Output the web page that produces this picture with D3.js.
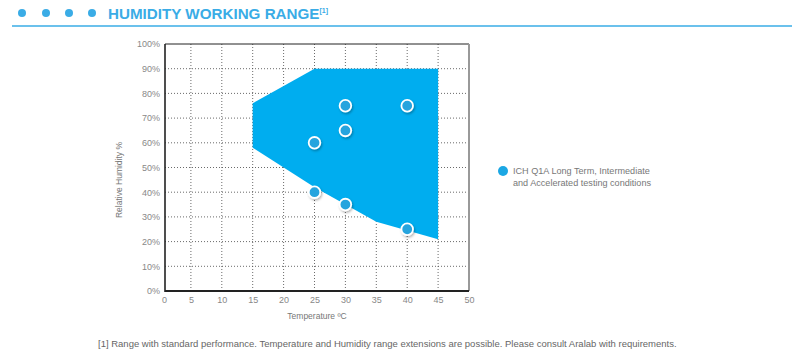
<!DOCTYPE html>
<html>
<head>
<meta charset="utf-8">
<script src="https://cdn.jsdelivr.net/npm/d3@7"></script>
<style>
  body { margin: 0; background: #fff; }
  svg { font-family: "Liberation Sans", Arial, sans-serif; display: block; }
</style>
</head>
<body>
<svg id="chart" width="792" height="362"></svg>
<script>
// working range envelope (temperature, humidity)
const rangeTemp = [15, 25, 45, 45, 35, 25, 15];
const rangeHum = [76, 90, 90, 21, 28, 42, 58];

// ICH Q1A test conditions
const pointTemp = [25, 25, 30, 30, 30, 40, 40];
const pointHum = [60, 40, 75, 65, 35, 75, 25];

const xTicks = [0, 5, 10, 15, 20, 25, 30, 35, 40, 45, 50];
const yTicks = [0, 10, 20, 30, 40, 50, 60, 70, 80, 90, 100];

const blue = "#00adef";
const svg = d3.select("#chart");

const defs = svg.append("defs");
const f = defs.append("filter").attr("id", "shadow")
  .attr("x", "-50%").attr("y", "-50%").attr("width", "200%").attr("height", "200%");
f.append("feDropShadow").attr("dx", 1).attr("dy", 1.5).attr("stdDeviation", 1.2)
  .attr("flood-color", "#000").attr("flood-opacity", 0.3);

// header
const dotsX = [22, 46, 69, 92];
svg.selectAll(".hdot").data(dotsX).join("circle")
  .attr("cx", d => d).attr("cy", 13).attr("r", 4).attr("fill", "#3aace6");
const title = svg.append("text").attr("x", 108).attr("y", 19)
  .attr("font-size", 15.2).attr("font-weight", "bold").attr("fill", "#3aace6")
  .text("HUMIDITY WORKING RANGE");
title.append("tspan").attr("font-size", 7).attr("dy", -6).text("[1]");
svg.append("line").attr("x1", 12).attr("x2", 792).attr("y1", 26).attr("y2", 26)
  .attr("stroke", "#3aace6").attr("stroke-width", 1.5);

const x = d3.scaleLinear().domain([0, 50]).range([160, 469]);
const y = d3.scaleLinear().domain([0, 100]).range([291, 44]);
const left = 165;

const g = svg.append("g");

// grid
g.selectAll(".vg").data(xTicks.slice(1, -1)).join("line")
  .attr("x1", d => x(d)).attr("x2", d => x(d))
  .attr("y1", y(100)).attr("y2", y(0))
  .attr("stroke", "#444").attr("stroke-width", 0.8).attr("stroke-dasharray", "1,2");
g.selectAll(".hg").data(yTicks.slice(1, -1)).join("line")
  .attr("x1", left).attr("x2", x(50))
  .attr("y1", d => y(d)).attr("y2", d => y(d))
  .attr("stroke", "#444").attr("stroke-width", 0.8).attr("stroke-dasharray", "1,2");

// range polygon
g.append("polygon")
  .attr("points", rangeTemp.map((t, i) => [x(t), y(rangeHum[i])].join(",")).join(" "))
  .attr("fill", blue);

// frame
g.append("line").attr("x1", left).attr("x2", x(50)).attr("y1", y(100)).attr("y2", y(100))
  .attr("stroke", "#222").attr("stroke-width", 1);
g.append("line").attr("x1", x(50)).attr("x2", x(50)).attr("y1", y(100)).attr("y2", y(0))
  .attr("stroke", "#999").attr("stroke-width", 2);

// axes
const xAxis = g.append("g").attr("transform", `translate(0,${y(0)})`)
  .call(d3.axisBottom(x).tickValues(xTicks).tickSize(0).tickPadding(6));
const yAxis = g.append("g").attr("transform", `translate(${left},0)`)
  .call(d3.axisLeft(y).tickValues(yTicks).tickSize(0).tickPadding(5).tickFormat(d => d + "%"));
[xAxis, yAxis].forEach(a => {
  a.select(".domain").remove();
  a.selectAll("text").attr("fill", "#888").attr("font-size", 9)
    .attr("font-family", "'Liberation Sans', Arial, sans-serif");
});
xAxis.select(".tick text").attr("dx", 4);
g.append("line").attr("x1", left).attr("x2", left).attr("y1", y(100)).attr("y2", y(0) + 1)
  .attr("stroke", "#222").attr("stroke-width", 1.6);
g.append("line").attr("x1", left).attr("x2", x(50)).attr("y1", y(0)).attr("y2", y(0))
  .attr("stroke", "#222").attr("stroke-width", 1.8);

// points
g.selectAll(".pt").data(pointTemp).join("circle")
  .attr("cx", d => x(d)).attr("cy", (d, i) => y(pointHum[i])).attr("r", 5.8)
  .attr("fill", "#27a4de").attr("stroke", "#fff").attr("stroke-width", 1.8)
  .attr("filter", "url(#shadow)");

// axis titles
svg.append("text").attr("transform", "translate(122,180) rotate(-90)")
  .attr("text-anchor", "middle").attr("font-size", 8.5).attr("fill", "#777")
  .text("Relative Humidity %");
svg.append("text").attr("x", 317).attr("y", 319)
  .attr("text-anchor", "middle").attr("font-size", 8.5).attr("fill", "#777")
  .text("Temperature ºC");

// legend
svg.append("circle").attr("cx", 503).attr("cy", 171).attr("r", 5).attr("fill", "#1ba7e4");
const leg = svg.append("text").attr("x", 513).attr("y", 174)
  .attr("font-size", 9.1).attr("fill", "#777");
leg.append("tspan").attr("x", 513).text("ICH Q1A Long Term, Intermediate");
leg.append("tspan").attr("x", 513).attr("dy", 12).text("and Accelerated testing conditions");

// footnote
svg.append("text").attr("x", 98).attr("y", 347)
  .attr("font-size", 9.5).attr("fill", "#666")
  .text("[1] Range with standard performance. Temperature and Humidity range extensions are possible. Please consult Aralab with requirements.");
</script>
</body>
</html>
